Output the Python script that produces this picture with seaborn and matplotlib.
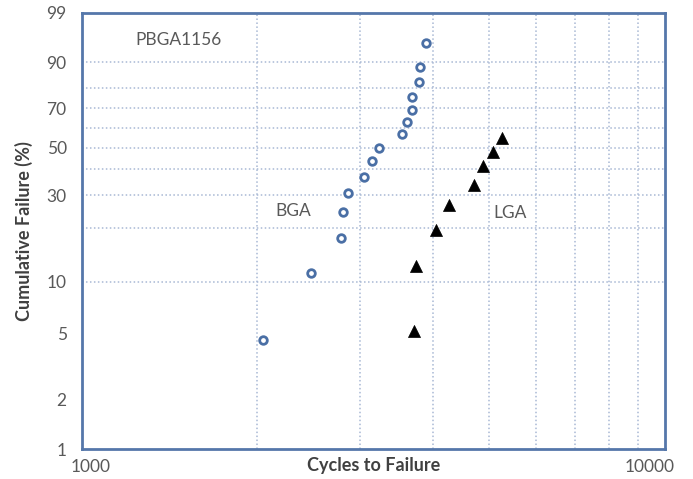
import numpy as np
import pandas as pd
import matplotlib
matplotlib.use("Agg")
import matplotlib.pyplot as plt
import matplotlib.transforms as mtransforms
import seaborn as sns

# Data (cycles to failure, cumulative failure %)
bga_cycles = [2045, 2470, 2780, 2800, 2860, 3045, 3145, 3230, 3540, 3605,
              3680, 3680, 3785, 3805, 3885]
bga_failure = [4.55, 11.2, 17.7, 24.5, 30.8, 36.9, 43.8, 49.9, 56.9, 63.2,
               69.2, 75.8, 82.4, 88.5, 95.1]
lga_cycles = [3715, 3745, 4050, 4265, 4710, 4870, 5075, 5260]
lga_failure = [5.15, 12.4, 19.6, 26.5, 33.7, 41.7, 48.1, 55.0]

y_ticks = [1, 2, 5, 10, 30, 50, 70, 90, 99]
y_grid = [10, 20, 30, 40, 50, 60, 70, 80, 90]
x_ticks = [1000, 10000]
x_grid = [2000, 3000, 4000, 5000, 6000, 7000, 8000, 9000]

SPINE = "#5577AA"
GRID = "#A8B8D4"
TEXT = "#595959"


def weibull_fwd(p):
    p = np.clip(np.asarray(p, dtype=float), 1e-6, 100 - 1e-6) / 100.0
    return np.log(-np.log(1 - p))


def weibull_inv(w):
    return 100.0 * (1 - np.exp(-np.exp(np.asarray(w, dtype=float))))


if __name__ == "__main__":
    sns.set_style("white")
    plt.rcParams["font.family"] = ["Lato", "DejaVu Sans"]

    df = pd.concat([
        pd.DataFrame({"Cycles": bga_cycles, "Failure": bga_failure, "Package": "BGA"}),
        pd.DataFrame({"Cycles": lga_cycles, "Failure": lga_failure, "Package": "LGA"}),
    ])

    fig = plt.figure(figsize=(6.93, 4.79), dpi=100)
    ax = fig.add_axes([0.1183, 0.0626, 0.8413, 0.9103])
    ax.set_xscale("log")
    ax.set_yscale("function", functions=(weibull_fwd, weibull_inv))

    sns.scatterplot(data=df[df["Package"] == "BGA"], x="Cycles", y="Failure",
                    marker="o", s=30, facecolor="white", edgecolor="#4A6FA5",
                    linewidth=2, ax=ax, zorder=3)
    sns.scatterplot(data=df[df["Package"] == "LGA"], x="Cycles", y="Failure",
                    marker="^", s=75, color="black", edgecolor="black",
                    linewidth=0.5, ax=ax, zorder=3)

    ax.set_xlim(1000, 10000)
    ax.set_ylim(1, 99)

    ax.xaxis.remove_overlapping_locs = False
    ax.yaxis.remove_overlapping_locs = False
    ax.set_yticks(y_ticks)
    ax.set_yticklabels([str(t) for t in y_ticks])
    ax.set_yticks(y_grid, minor=True)
    ax.set_xticks(x_ticks)
    ax.set_xticklabels([str(t) for t in x_ticks])
    ax.set_xticks(x_grid, minor=True)
    ax.xaxis.set_minor_formatter(plt.NullFormatter())
    ax.yaxis.set_minor_formatter(plt.NullFormatter())
    ax.tick_params(which="both", length=0, labelsize=12.5, colors=TEXT)
    ax.tick_params(axis="y", pad=11)
    ax.tick_params(axis="x", pad=7)
    ax.grid(False, which="major")
    ax.grid(True, which="minor", linestyle=(0, (1, 1.6)), color=GRID, linewidth=1.1)

    # shift x tick labels like the reference
    offs = [9, -15]
    for lab, dx in zip(ax.get_xticklabels(), offs):
        lab.set_transform(lab.get_transform() +
                          mtransforms.ScaledTranslation(dx / 100, 0, fig.dpi_scale_trans))

    for sp in ax.spines.values():
        sp.set_visible(True)
        sp.set_color(SPINE)
        sp.set_linewidth(2)

    ax.set_xlabel("Cycles to Failure", fontsize=13, fontweight="bold",
                  color="#404040", labelpad=-13)
    ax.set_ylabel("Cumulative Failure (%)", fontsize=13, fontweight="bold",
                  color="#404040", labelpad=10)

    ax.text(0.166, 0.937, "PBGA1156", transform=ax.transAxes, fontsize=12.5,
            color=TEXT, ha="center", va="center")
    ax.text(0.363, 0.545, "BGA", transform=ax.transAxes, fontsize=12.5,
            color=TEXT, ha="center", va="center")
    ax.text(0.734, 0.541, "LGA", transform=ax.transAxes, fontsize=12.5,
            color=TEXT, ha="center", va="center")

    fig.savefig("out.png", dpi=100)
